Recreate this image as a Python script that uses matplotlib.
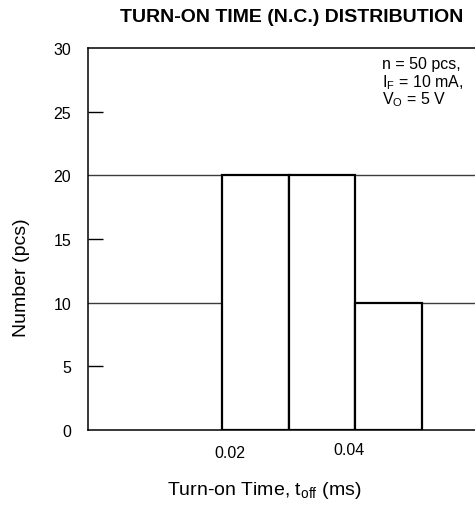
import matplotlib
matplotlib.use("Agg")
import matplotlib.pyplot as plt
import numpy as np

plt.rcParams['font.family'] = ['Liberation Sans', 'DejaVu Sans']

# histogram data
bin_edges = [0.02, 0.03, 0.04, 0.05]
counts = [20, 20, 10]
xtick_labels = ["0.02", "0.04"]
xtick_pos = [0.0212, 0.0391]
y_labels = [0, 5, 10, 15, 20, 25, 30]
y_grid = [10, 20]
y_minor = [5, 15, 25]

fig = plt.figure(figsize=(4.75, 5.06), dpi=100)
ax = fig.add_axes([88/475, 75/506, 1 - 88/475, 382/506])

widths = np.diff(bin_edges)
ax.bar(bin_edges[:-1], counts, width=widths, align='edge',
       color='white', edgecolor='black', linewidth=1.6, zorder=3)

ax.set_xlim(0, 0.0579)
ax.set_ylim(0, 30)

# horizontal grid lines
for v in y_grid:
    ax.axhline(v, color='#3c3c3c', linewidth=1.0, zorder=1)

ax.yaxis.remove_overlapping_locs = False
ax.set_yticks(y_labels)
ax.set_yticks(y_minor, minor=True)
ax.tick_params(axis='y', which='major', length=0, pad=12, labelsize=11.5)
ax.tick_params(axis='y', which='minor', direction='in', length=11, width=1.0, color='black')
ax.set_xticks([])

for lbl, xp, yp in zip(xtick_labels, xtick_pos, [-0.060, -0.050]):
    ax.text(xp, yp, lbl, transform=ax.get_xaxis_transform(), ha='center', va='center',
            fontsize=11.5)

ax.spines['right'].set_visible(False)
for s in ['left', 'top', 'bottom']:
    ax.spines[s].set_linewidth(1.1)
    ax.spines[s].set_color('black')

fig.text(292/475, 1 - 17/506, "TURN-ON TIME (N.C.) DISTRIBUTION", ha='center', va='center',
         fontsize=14, fontweight='bold')
fig.text(22/475, 1 - 278/506, "Number (pcs)", rotation=90, ha='center', va='center',
         fontsize=14)
fig.text(264/475, 1 - 491/506, r"Turn-on Time, t$_\mathregular{off}$ (ms)", ha='center',
         va='center', fontsize=14)

notes = ["n = 50 pcs,", r"I$_\mathregular{F}$ = 10 mA,", r"V$_\mathregular{O}$ = 5 V"]
for i, t in enumerate(notes):
    fig.text(382/475, 1 - (65 + 17.5*i)/506, t, ha='left', va='center', fontsize=11.5)

fig.savefig("out.png", dpi=100)
